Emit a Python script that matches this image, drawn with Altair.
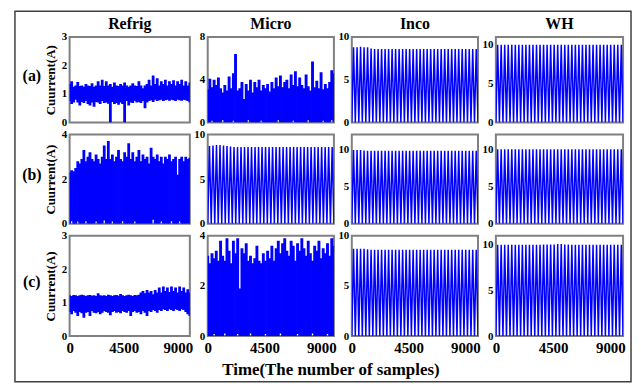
import altair as alt
import pandas as pd

X_MAX = 10000
X_TICKS = [0, 4500, 9000]
FONT = "Liberation Serif"
BLUE = "#0000ff"

COLUMNS = ["Refrig", "Micro", "Inco", "WH"]
ROWS = ["(a)", "(b)", "(c)"]

# ---- noisy signals: upper / lower envelope per time bin ----
refrig_a_hi = [1.35, 1.45, 1.25, 1.3, 1.42, 1.28, 1.3, 1.25, 1.35, 1.3, 1.28, 1.38, 1.25, 1.3, 1.45, 1.3, 1.5, 1.28, 1.45, 1.3,
               1.35, 1.25, 1.4, 1.3, 1.28, 1.35, 1.3, 1.4, 1.3, 1.25, 1.3, 1.38, 1.3, 1.28, 1.45, 1.3, 1.2, 1.3, 1.35, 1.5,
               1.3, 1.65, 1.35, 1.55, 1.3, 1.45, 1.35, 1.5, 1.3, 1.45, 1.35, 1.48, 1.3, 1.45, 1.35, 1.5, 1.3, 1.45, 1.3, 1.4]
refrig_a_lo = [0.75, 0.65, 0.7, 0.8, 0.7, 0.6, 0.72, 0.68, 0.75, 0.65, 0.6, 0.7, 0.55, 0.72, 0.7, 0.65, 0.75, 0.68, 0.7, 0.66,
               0.0, 0.72, 0.65, 0.68, 0.62, 0.7, 0.65, 0.0, 0.75, 0.6, 0.7, 0.68, 0.75, 0.7, 0.72, 0.68, 0.75, 0.5, 0.7, 0.75,
               0.78, 0.72, 0.8, 0.75, 0.78, 0.8, 0.75, 0.78, 0.8, 0.76, 0.8, 0.78, 0.75, 0.8, 0.78, 0.76, 0.8, 0.78, 0.75, 0.7]

refrig_b_hi = [2.3, 2.4, 2.35, 2.5, 2.8, 2.7, 2.9, 3.3, 2.8, 3.0, 3.2, 2.9, 2.8, 3.1, 2.9, 2.7, 3.0, 3.5, 2.9, 3.7,
               2.9, 3.1, 2.8, 3.0, 3.3, 2.9, 2.8, 3.2, 3.0, 3.6, 2.9, 3.2, 2.8, 3.0, 3.3, 2.8, 3.1, 2.9, 3.0, 2.7,
               3.4, 3.0, 2.9, 3.1, 2.8, 3.0, 2.7, 3.0, 2.9, 3.1, 2.8, 2.9, 3.0, 2.2, 2.9, 3.0, 2.8, 3.0, 2.9, 2.95]
refrig_b_lo = [0.0, 0.12, 0.0, 0.0, 0.1, 0.0, 0.0, 0.0, 0.12, 0.0, 0.0, 0.0, 0.0, 0.1, 0.0, 0.0, 0.0, 0.15, 0.0, 0.0,
               0.0, 0.1, 0.0, 0.0, 0.0, 0.0, 0.12, 0.0, 0.0, 0.0, 0.0, 0.0, 0.1, 0.0, 0.0, 0.0, 0.0, 0.0, 0.0, 0.0,
               0.0, 0.18, 0.0, 0.0, 0.0, 0.1, 0.0, 0.0, 0.0, 0.0, 0.12, 0.0, 0.0, 0.0, 0.1, 0.0, 0.0, 0.0, 0.0, 0.0]

refrig_c_hi = [1.22, 1.2, 1.23, 1.22, 1.2, 1.22, 1.24, 1.22, 1.2, 1.22, 1.23, 1.21, 1.22, 1.2, 1.28, 1.22, 1.21, 1.22, 1.2, 1.24,
               1.22, 1.2, 1.22, 1.23, 1.21, 1.26, 1.22, 1.2, 1.22, 1.24, 1.22, 1.2, 1.23, 1.22, 1.24, 1.3, 1.35, 1.28, 1.38, 1.3,
               1.35, 1.25, 1.38, 1.3, 1.45, 1.3, 1.48, 1.35, 1.45, 1.32, 1.48, 1.35, 1.45, 1.3, 1.48, 1.35, 1.45, 1.3, 1.4, 1.3]
refrig_c_lo = [0.72, 0.65, 0.75, 0.7, 0.6, 0.72, 0.68, 0.55, 0.7, 0.72, 0.6, 0.75, 0.7, 0.68, 0.72, 0.65, 0.7, 0.75, 0.72, 0.7,
               0.62, 0.72, 0.75, 0.7, 0.72, 0.68, 0.75, 0.72, 0.7, 0.75, 0.6, 0.72, 0.75, 0.7, 0.72, 0.65, 0.75, 0.7, 0.6, 0.75,
               0.72, 0.78, 0.75, 0.7, 0.78, 0.75, 0.8, 0.78, 0.75, 0.8, 0.78, 0.75, 0.8, 0.78, 0.75, 0.8, 0.78, 0.72, 0.65, 0.6]

micro_a_hi = [3.1, 4.1, 3.3, 4.0, 3.5, 4.2, 3.2, 2.8, 3.5, 3.0, 4.3, 3.2, 4.6, 6.4, 3.0, 3.2, 3.8, 2.2, 3.6, 3.0,
              4.0, 2.8, 3.8, 3.3, 4.0, 3.0, 3.5, 3.2, 3.6, 2.9, 3.8, 3.2, 4.2, 3.4, 4.4, 3.3, 3.8, 4.0, 3.2, 4.5,
              3.5, 4.8, 3.4, 4.2, 3.5, 3.2, 4.5, 3.4, 3.0, 5.7, 3.3, 3.9, 3.2, 4.7, 3.1, 3.6, 3.2, 3.8, 4.9, 4.6]
micro_a_lo = [0.0, 0.0, 0.15, 0.0, 0.0, 0.0, 0.0, 0.2, 0.0, 0.0, 0.0, 0.0, 0.15, 0.0, 0.0, 0.0, 0.0, 0.0, 0.0, 0.2,
              0.0, 0.0, 0.0, 0.0, 0.0, 0.15, 0.0, 0.0, 0.0, 0.0, 0.0, 0.0, 0.0, 0.2, 0.0, 0.0, 0.0, 0.0, 0.0, 0.0,
              0.15, 0.0, 0.0, 0.0, 0.0, 0.0, 0.0, 0.2, 0.0, 0.0, 0.0, 0.0, 0.0, 0.0, 0.15, 0.0, 0.0, 0.0, 0.2, 0.0]

micro_c_hi = [3.2, 2.9, 3.3, 3.1, 3.4, 3.0, 3.8, 3.2, 3.0, 3.9, 3.4, 2.9, 3.8, 3.3, 3.9, 1.9, 3.5, 3.3, 3.7, 3.0,
              3.2, 2.9, 3.1, 3.6, 3.0, 2.9, 3.3, 3.0, 3.4, 3.1, 3.6, 3.0, 3.5, 3.8, 3.3, 3.7, 3.9, 3.4, 3.2, 3.8,
              3.6, 3.0, 3.7, 3.4, 3.9, 3.5, 3.2, 3.8, 3.3, 3.0, 3.6, 3.4, 3.8, 3.1, 3.5, 3.3, 3.7, 3.2, 3.9, 3.6]
micro_c_lo = [0.0, 0.0, 0.0, 0.08, 0.0, 0.0, 0.0, 0.0, 0.1, 0.0, 0.0, 0.0, 0.0, 0.0, 0.08, 0.0, 0.0, 0.0, 0.0, 0.0,
              0.1, 0.0, 0.0, 0.0, 0.0, 0.0, 0.0, 0.08, 0.0, 0.0, 0.0, 0.0, 0.0, 0.0, 0.1, 0.0, 0.0, 0.0, 0.0, 0.0,
              0.0, 0.0, 0.08, 0.0, 0.0, 0.0, 0.0, 0.0, 0.0, 0.1, 0.0, 0.0, 0.0, 0.0, 0.0, 0.0, 0.08, 0.0, 0.0, 0.0]

# ---- periodic signals: peak current of each on/off cycle ----
micro_b_peaks = [8.7, 8.75, 8.8, 8.8, 8.75, 8.7, 8.65, 8.6, 8.6, 8.6, 8.6, 8.6, 8.6, 8.6, 8.6, 8.6, 8.6, 8.6,
                 8.6, 8.6, 8.6, 8.6, 8.6, 8.6, 8.6, 8.6, 8.6, 8.6, 8.6, 8.6, 8.6, 8.6, 8.6, 8.6, 8.6, 8.6]
inco_a_peaks = [8.8, 8.8, 8.85, 8.8, 8.8, 8.65, 8.6, 8.6, 8.6, 8.6, 8.6, 8.6, 8.6, 8.6, 8.6, 8.6, 8.6, 8.6,
                8.6, 8.6, 8.6, 8.6, 8.6, 8.6, 8.6, 8.6, 8.6, 8.6, 8.6, 8.6, 8.6, 8.6, 8.6, 8.6, 8.6, 8.6]
inco_b_peaks = [9.9, 9.9, 9.9, 9.85, 9.8, 9.8, 9.8, 9.8, 9.8, 9.8, 9.8, 9.8, 9.8, 9.8, 9.8, 9.8, 9.8, 9.8,
                9.8, 9.8, 9.8, 9.8, 9.8, 9.8, 9.8, 9.8, 9.8, 9.8, 9.8, 9.8, 9.8, 9.8, 9.8, 9.8, 9.8, 9.8]
inco_c_peaks = [8.7, 8.7, 8.7, 8.7, 8.65, 8.6, 8.6, 8.6, 8.6, 8.6, 8.6, 8.6, 8.6, 8.6, 8.6, 8.6, 8.6, 8.6,
                8.6, 8.6, 8.6, 8.6, 8.6, 8.6, 8.6, 8.6, 8.6, 8.6, 8.6, 8.6, 8.6, 8.6, 8.6, 8.6, 8.6, 8.6]
wh_a_peaks = [10.0, 10.0, 10.0, 10.0, 10.0, 10.0, 10.0, 10.0, 10.0, 10.0, 10.0, 10.0, 10.0, 10.0, 10.0, 10.0, 10.0, 10.0,
              10.0, 10.0, 10.0, 10.0, 10.0, 10.0, 10.0, 10.0, 10.0, 10.0, 10.0, 10.0, 10.0, 10.0, 10.0, 10.0, 10.0, 10.0]
wh_b_peaks = [10.0, 10.0, 10.0, 10.0, 10.0, 10.0, 10.0, 10.0, 10.0, 10.0, 10.0, 10.0, 10.0, 10.0, 10.0, 10.0, 10.0, 10.0,
              10.0, 10.0, 10.0, 10.0, 10.0, 10.0, 10.0, 10.0, 10.0, 10.0, 10.0, 10.0, 10.0, 10.0, 10.0, 10.0, 10.0, 10.0]
wh_c_peaks = [10.0, 10.0, 10.0, 10.0, 10.0, 10.0, 10.0, 10.0, 10.0, 10.0, 10.0, 10.0, 10.0, 10.05, 10.05, 10.05, 10.05, 10.1,
              10.1, 10.05, 10.05, 10.0, 10.0, 10.0, 10.0, 10.0, 10.0, 10.0, 10.0, 10.0, 10.0, 10.0, 10.0, 10.0, 10.0, 10.0]

# y axis range and ticks per panel [row][col]
Y_MAX = [[3, 8, 10, 11], [4, 10, 12, 12], [3, 4, 10, 11]]
Y_TICKS = [[[0, 1, 2, 3], [0, 4, 8], [0, 5, 10], [0, 5, 10]],
           [[0, 2, 4], [0, 5, 10], [0, 5, 10], [0, 5, 10]],
           [[0, 1, 2, 3], [0, 2, 4], [0, 5, 10], [0, 5, 10]]]

SIGNALS = [
    [("noisy", refrig_a_hi, refrig_a_lo), ("noisy", micro_a_hi, micro_a_lo), ("periodic", inco_a_peaks), ("periodic", wh_a_peaks)],
    [("noisy", refrig_b_hi, refrig_b_lo), ("periodic", micro_b_peaks), ("periodic", inco_b_peaks), ("periodic", wh_b_peaks)],
    [("noisy", refrig_c_hi, refrig_c_lo), ("noisy", micro_c_hi, micro_c_lo), ("periodic", inco_c_peaks), ("periodic", wh_c_peaks)],
]

COL_W = [121, 127, 127, 128]
ROW_H = [86, 90, 101]


def noisy_df(hi, lo):
    n = len(hi)
    return pd.DataFrame({"x": [i * X_MAX / (n - 1) for i in range(n)], "hi": hi, "lo": lo})


def periodic_df(peaks):
    n = len(peaks)
    step = X_MAX / (2 * n)
    xs, ys = [], []
    for k, p in enumerate(peaks):
        xs += [2 * k * step, (2 * k + 1) * step]
        ys += [0, p]
    xs.append(X_MAX)
    ys.append(0)
    return pd.DataFrame({"x": xs, "y": ys})


def text_layer(txt, x, y, size):
    return alt.Chart(pd.DataFrame({"t": [txt]})).mark_text(
        font=FONT, fontSize=size, fontWeight="bold", color="black", align="center", baseline="middle"
    ).encode(text="t:N", x=alt.value(x), y=alt.value(y))


cells = []
for r in range(3):
    for c in range(4):
        w, h = COL_W[c], ROW_H[r]
        sig = SIGNALS[r][c]
        yax_kw = dict(values=Y_TICKS[r][c], labelFont=FONT, labelFontWeight="bold", labelFontSize=11,
                      labelColor="black", labelPadding=3, ticks=False, domain=False, grid=False)
        if c == 0:
            yax_kw.update(title="Cuurrent(A)", titleFont=FONT, titleFontWeight="bold", titleFontSize=13,
                          titleColor="black", titlePadding=4)
        else:
            yax_kw.update(title="")
        yscale = alt.Scale(domain=[0, Y_MAX[r][c]], nice=False, zero=False)
        xscale = alt.Scale(domain=[0, X_MAX], nice=False, zero=False)
        if r == 2:
            xaxis = alt.Axis(values=X_TICKS, format="d", title="", labelFont=FONT, labelFontWeight="bold",
                             labelFontSize=15, labelColor="black", labelPadding=4, ticks=False, domain=False,
                             grid=False, labelFlush=False)
        else:
            xaxis = None
        if sig[0] == "noisy":
            base = alt.Chart(noisy_df(sig[1], sig[2])).mark_rule(
                color=BLUE, strokeWidth=w / len(sig[1]) + 0.8, clip=True
            ).encode(
                x=alt.X("x:Q", scale=xscale, axis=xaxis),
                y=alt.Y("hi:Q", scale=yscale, axis=alt.Axis(**yax_kw)),
                y2="lo:Q",
            )
        else:
            base = alt.Chart(periodic_df(sig[1])).mark_line(
                color=BLUE, strokeWidth=1.5, clip=True
            ).encode(
                x=alt.X("x:Q", scale=xscale, axis=xaxis),
                y=alt.Y("y:Q", scale=yscale, axis=alt.Axis(**yax_kw)),
            )
        layers = [base]
        if r == 0:
            layers.append(text_layer(COLUMNS[c], w / 2, -13, 16))
        if c == 0:
            layers.append(text_layer(ROWS[r], -38, h / 2 - 4, 16))
        if r == 0 and c == 0:
            frame = alt.Chart(pd.DataFrame({"f": [0]})).mark_rect(
                fillOpacity=0, stroke="#404040", strokeWidth=1.5
            ).encode(x=alt.value(-55), x2=alt.value(565), y=alt.value(-26), y2=alt.value(347))
            layers.append(frame)
        if r == 2 and c == 0:
            layers.append(text_layer("Time(The number of samples)", 263, 135, 17))
        cell = alt.layer(*layers).properties(width=w, height=h)
        cells.append(cell)

chart = alt.concat(
    *cells, columns=4, spacing={"row": 12, "column": 18}, bounds="flush", align="each"
).properties(
    padding={"left": 5, "top": 0, "right": 0, "bottom": 0}
).configure_view(stroke="#808080", strokeWidth=2)

chart.save("out.html", embed_options={"renderer": "svg", "actions": False})
